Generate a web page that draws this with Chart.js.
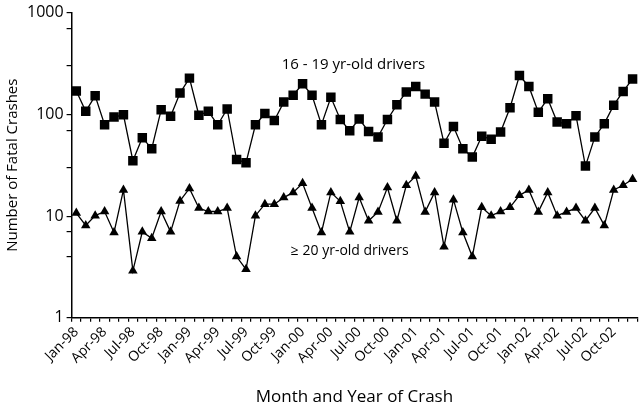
<!DOCTYPE html>
<html>
<head>
<meta charset="utf-8">
<script src="https://cdn.jsdelivr.net/npm/chart.js@4/dist/chart.umd.min.js"></script>
<style>
  html, body { margin: 0; padding: 0; background: #fff; overflow: hidden; }
  #wrap { width: 640px; height: 411px; overflow: hidden; }
</style>
</head>
<body>
<div id="wrap"><canvas id="c" width="644" height="411"></canvas></div>
<script>
const monthNames = ["Jan","Feb","Mar","Apr","May","Jun","Jul","Aug","Sep","Oct","Nov","Dec"];
const yearLabels = ["98","99","00","01","02"];
const categories = [];
yearLabels.forEach(y => monthNames.forEach(m => categories.push(m + "-" + y)));

const teenDrivers = [170,107,152,79,94,99,35,59,46,111,96,162,
                     227,98,107,79,113,36,33.5,79,102,87,132,154,
                     200,154,79,147,89,69,90,68,60,89,124,166,
                     188,158,132,52,76,46,38,61,57,67,116,241,
                     188,105,142,84,81,97,31,60,81,123,168,223];
const adultDrivers = [10.7,8.1,10.1,11.1,6.9,18.1,2.9,7.0,6.05,11.1,7.0,14.1,
                      18.7,12.0,11.1,11.1,12,4.0,3.0,10.1,13.1,13.1,15.2,17.1,
                      21,12,6.9,17.1,14,7.0,15.2,9.0,11.0,19.1,9.0,20.1,
                      24.8,11.0,17.1,5.0,14.5,6.9,4.0,12.2,10.1,11.1,12.2,16,
                      18.1,11,17.1,10.1,11,12,9,12,8.1,18.1,20.1,23];
const yTickLabels = [1, 10, 100, 1000];
const seriesNames = ["16 - 19 yr-old drivers", "\u2265 20 yr-old drivers"];

const FONT = "'Open Sans', 'Liberation Sans', sans-serif";

const labelPlugin = {
  id: 'seriesLabels',
  afterDraw(chart) {
    const ctx = chart.ctx;
    const xs = chart.scales.x, ys = chart.scales.y;
    ctx.save();
    ctx.fillStyle = '#000';
    ctx.textAlign = 'center';
    ctx.textBaseline = 'middle';
    ctx.font = "15px " + FONT;
    ctx.fillText(seriesNames[0], xs.getPixelForValue(29.4), ys.getPixelForValue(310));
    ctx.font = "14px " + FONT;
    ctx.fillText(seriesNames[1], xs.getPixelForValue(29.0), ys.getPixelForValue(4.55));
    ctx.restore();
  }
};

new Chart(document.getElementById('c'), {
  type: 'line',
  data: {
    labels: categories,
    datasets: [
      {
        label: seriesNames[0],
        data: teenDrivers,
        borderColor: '#000',
        backgroundColor: '#000',
        borderWidth: 1.3,
        pointStyle: 'rect',
        pointRadius: 6.7,
        pointBorderWidth: 0,
        tension: 0
      },
      {
        label: seriesNames[1],
        data: adultDrivers,
        borderColor: '#000',
        backgroundColor: '#000',
        borderWidth: 1.3,
        pointStyle: 'triangle',
        pointRadius: 5.5,
        pointBorderWidth: 0,
        tension: 0
      }
    ]
  },
  options: {
    responsive: false,
    animation: false,
    devicePixelRatio: 1,
    layout: { padding: { top: 2, right: 0, left: 4, bottom: 4 } },
    plugins: {
      legend: { display: false },
      tooltip: { enabled: false }
    },
    scales: {
      x: {
        type: 'category',
        offset: true,
        border: { display: true, color: '#000', width: 1.5 },
        grid: {
          offset: true,
          drawOnChartArea: false,
          drawTicks: true,
          tickLength: 4,
          color: '#000',
          lineWidth: 1.2
        },
        ticks: {
          autoSkip: false,
          maxRotation: 45,
          minRotation: 45,
          color: '#000',
          padding: 2,
          font: function (c) { return { family: FONT, size: (c.index % 3 === 0) ? 14 : 1 }; },
          callback: function (v, i) { return i % 3 === 0 ? categories[i] : ''; }
        },
        title: {
          display: true,
          text: 'Month and Year of Crash',
          color: '#000',
          font: { family: FONT, size: 17 },
          padding: { top: 18, bottom: 0 }
        }
      },
      y: {
        type: 'logarithmic',
        min: 1,
        max: 1000,
        border: { display: true, color: '#000', width: 1.5 },
        grid: {
          drawOnChartArea: false,
          drawTicks: true,
          tickLength: 5,
          color: '#000',
          lineWidth: 1.2
        },
        ticks: {
          color: '#000',
          padding: 3,
          font: { family: FONT, size: 16 },
          callback: function (v) { return yTickLabels.includes(v) ? String(v) : ''; }
        },
        title: {
          display: true,
          text: 'Number of Fatal Crashes',
          color: '#000',
          font: { family: FONT, size: 15 },
          padding: { top: 0, bottom: 2 }
        }
      }
    }
  },
  plugins: [labelPlugin]
});
</script>
</body>
</html>
